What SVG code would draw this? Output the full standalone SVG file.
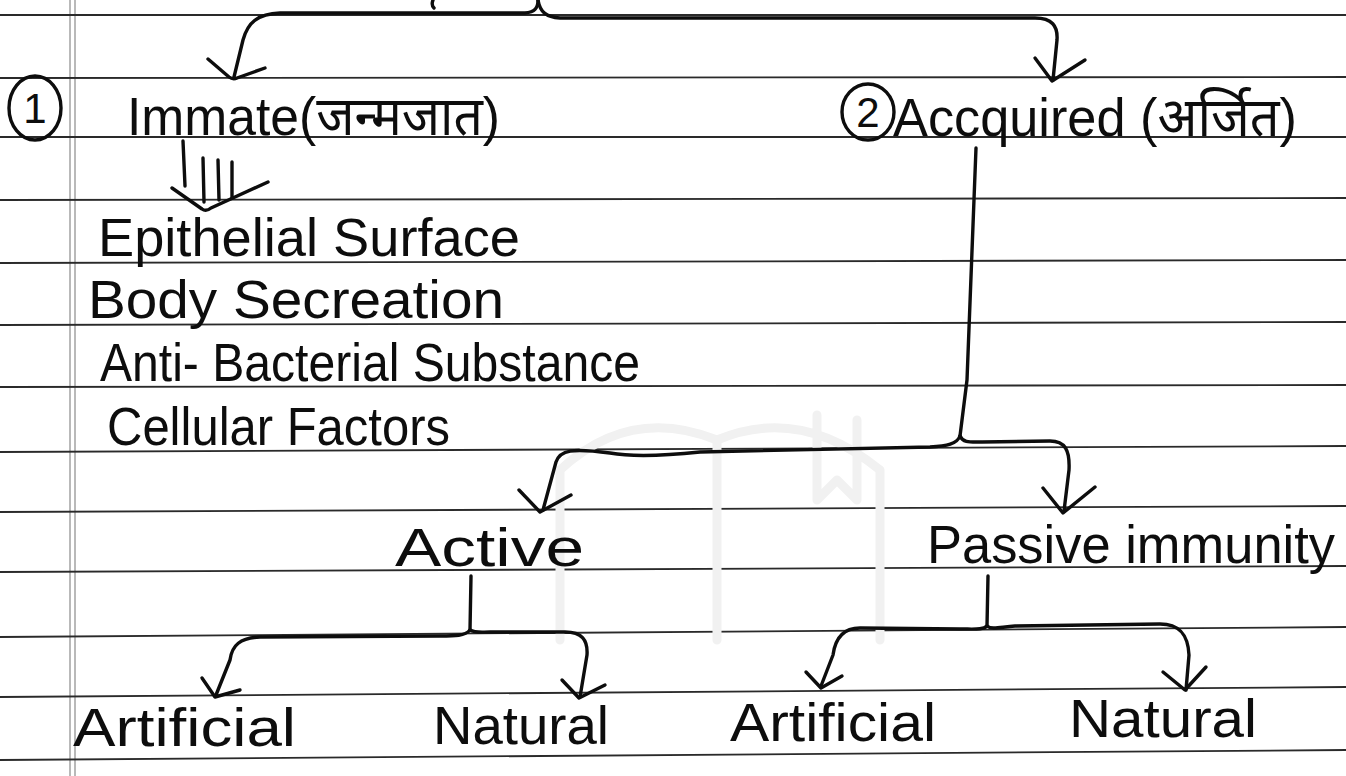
<svg xmlns="http://www.w3.org/2000/svg" width="1346" height="776" viewBox="0 0 1346 776">
<style>
.rule{stroke:#2a2a2a;stroke-width:1.8;fill:none}
.margin{stroke:#a8a8a8;stroke-width:1.6;fill:none}
.wm{stroke:#f1f1f1;stroke-width:9;fill:none;stroke-linecap:round;stroke-linejoin:round}
.ink{stroke:#0d0d0d;stroke-width:3.4;fill:none;stroke-linecap:round;stroke-linejoin:round}
.t{font-family:"Liberation Sans","Noto Sans",sans-serif;fill:#0d0d0d;font-size:54px}
.num{font-family:"Liberation Sans",sans-serif;fill:#0d0d0d;font-size:42px}
</style>
<rect width="1346" height="776" fill="#ffffff"/>
<g id="paper">
<line class="margin" x1="70" y1="0" x2="70" y2="776"/>
<line class="margin" x1="75" y1="0" x2="75" y2="776"/>
<line class="rule" x1="0" y1="15" x2="1346" y2="15"/>
<line class="rule" x1="0" y1="78" x2="1346" y2="77"/>
<line class="rule" x1="0" y1="137" x2="1346" y2="137"/>
<line class="rule" x1="0" y1="200" x2="1346" y2="198"/>
<line class="rule" x1="0" y1="263" x2="1346" y2="260"/>
<line class="rule" x1="0" y1="325" x2="1346" y2="322"/>
<line class="rule" x1="0" y1="387" x2="1346" y2="385"/>
<line class="rule" x1="0" y1="452" x2="1346" y2="446"/>
<line class="rule" x1="0" y1="512" x2="1346" y2="506"/>
<line class="rule" x1="0" y1="572" x2="1346" y2="566"/>
<line class="rule" x1="0" y1="637" x2="1346" y2="627"/>
<line class="rule" x1="0" y1="697" x2="1346" y2="687"/>
<line class="rule" x1="0" y1="760" x2="1346" y2="750"/>
<path class="wm" d="M560,470 Q630,405 717,440 Q800,405 880,470 M717,440 L717,640 M560,470 L560,640 M880,470 L880,640 M817,415 L817,500 L837,480 L857,500 L857,420"/>
</g>
<g id="connectors">
<path class="ink" d="M433,0 Q431,5 434,8"/>
<path class="ink" d="M538,0 C538,8 535,12 525,13 L280,13 C258,14 248,22 243,40 L234,77"/>
<path class="ink" d="M208,59 L229,77 Q233,80 237,78 L265,68"/>
<path class="ink" d="M538,0 C540,12 546,17 560,18 L1035,18 C1052,18 1058,26 1057,40 L1053,80"/>
<path class="ink" d="M1035,58 L1052,81 L1085,60"/>
<path class="ink" d="M183,141 L185,186"/>
<path class="ink" d="M172,188 L202,209 Q206,212 211,208 L268,182"/>
<path class="ink" d="M203,158 L204,202 M218,160 L219,200 M232,162 L232,198"/>
<path class="ink" d="M976,148 L967,380 L960,436"/>
<path class="ink" d="M960,436 C957,444 947,446 930,447 L700,452 C662,456 632,457 610,453 C572,448 560,450 556,462 L543,510"/>
<path class="ink" d="M519,490 L540,512 L571,495"/>
<path class="ink" d="M960,436 C963,443 970,442 982,442 L1050,441 C1065,441 1070,450 1069,470 L1064,511"/>
<path class="ink" d="M1043,488 L1063,513 L1095,487"/>
<path class="ink" d="M471,576 L470,630"/>
<path class="ink" d="M470,630 C465,636 455,636 440,636 L260,637 C240,638 232,645 230,660 L216,695"/>
<path class="ink" d="M202,678 L215,697 L240,690"/>
<path class="ink" d="M470,630 C475,633 480,632 490,632 L565,632 C582,632 588,640 587,655 L580,697"/>
<path class="ink" d="M562,680 L579,698 L605,685"/>
<path class="ink" d="M988,576 L987,626"/>
<path class="ink" d="M987,626 C983,630 975,629 960,629 L860,628 C842,628 835,640 833,655 L821,686"/>
<path class="ink" d="M806,672 L821,688 L842,676"/>
<path class="ink" d="M987,626 C992,630 1000,627 1015,626 L1160,624 C1180,624 1188,635 1189,655 L1186,690"/>
<path class="ink" d="M1163,672 L1185,690 L1206,667"/>
</g>
<g id="innate">
<ellipse class="ink" cx="35" cy="108" rx="26" ry="32"/>
<text class="num" x="35" y="123" text-anchor="middle">1</text>
<text class="t" x="127" y="135" textLength="373" lengthAdjust="spacingAndGlyphs">Immate(जन्मजात)</text>
</g>
<g id="acquired">
<ellipse class="ink" cx="868" cy="112" rx="26" ry="28"/>
<text class="num" x="868" y="127" text-anchor="middle">2</text>
<text class="t" x="893" y="136" textLength="404" lengthAdjust="spacingAndGlyphs">Accquired (अर्जित)</text>
</g>
<g id="innate-list">
<text class="t" x="98" y="256" textLength="422" lengthAdjust="spacingAndGlyphs">Epithelial Surface</text>
<text class="t" x="88" y="318" textLength="416" lengthAdjust="spacingAndGlyphs">Body Secreation</text>
<text class="t" x="100" y="381" textLength="540" lengthAdjust="spacingAndGlyphs">Anti- Bacterial Substance</text>
<text class="t" x="107" y="445" textLength="343" lengthAdjust="spacingAndGlyphs">Cellular Factors</text>
</g>
<g id="active">
<text class="t" x="395" y="566" textLength="189" lengthAdjust="spacingAndGlyphs">Active</text>
</g>
<g id="passive">
<text class="t" x="927" y="563" textLength="408" lengthAdjust="spacingAndGlyphs">Passive immunity</text>
</g>
<g id="active-artificial">
<text class="t" x="73" y="746" textLength="223" lengthAdjust="spacingAndGlyphs">Artificial</text>
</g>
<g id="active-natural">
<text class="t" x="433" y="744" textLength="176" lengthAdjust="spacingAndGlyphs">Natural</text>
</g>
<g id="passive-artificial">
<text class="t" x="730" y="741" textLength="206" lengthAdjust="spacingAndGlyphs">Artificial</text>
</g>
<g id="passive-natural">
<text class="t" x="1069" y="737" textLength="188" lengthAdjust="spacingAndGlyphs">Natural</text>
</g>
</svg>
